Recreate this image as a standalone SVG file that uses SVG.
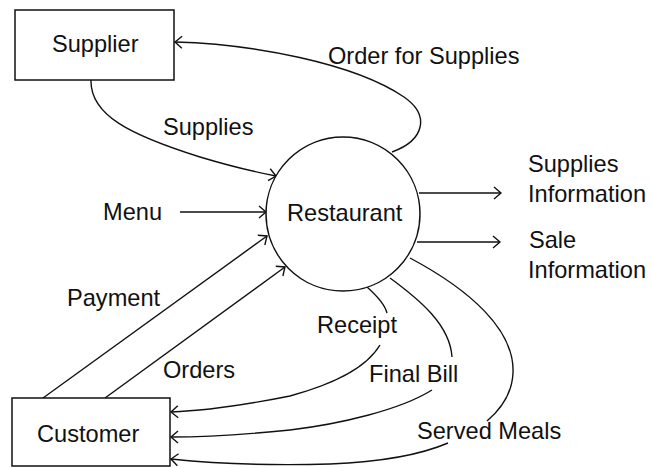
<svg xmlns="http://www.w3.org/2000/svg" width="652" height="468" viewBox="0 0 652 468">
<style>
  .box { fill: #fff; stroke: #111; stroke-width: 1.5; }
  .t { font-family: "Liberation Sans", Arial, sans-serif; font-size: 23.6px; fill: #111; }
  .ln { fill: none; stroke: #111; stroke-width: 1.4; }
</style>
<defs>
  <marker id="arr" markerUnits="userSpaceOnUse" markerWidth="10" markerHeight="14" refX="8" refY="7" orient="auto" overflow="visible">
    <path d="M1,1 L8,7 L1,13" fill="none" stroke="#111" stroke-width="1.4"/>
  </marker>
</defs>
<rect width="652" height="468" fill="#fff"/>

<g id="connectors">
  <!-- Order for Supplies -->
  <path class="ln" d="M392,152 C425,140 430,115 404,97 C354,63 252,44 175,42" marker-end="url(#arr)"/>
  <!-- Supplies -->
  <path class="ln" d="M91,80 C90,115 130,135 200,157 C230,166 255,172 276,176" marker-end="url(#arr)"/>
  <!-- Menu -->
  <path class="ln" d="M180,212 L266,212" marker-end="url(#arr)"/>
  <!-- Supplies Information -->
  <path class="ln" d="M419,193 L501,193" marker-end="url(#arr)"/>
  <!-- Sale Information -->
  <path class="ln" d="M417,242 L500,242" marker-end="url(#arr)"/>
  <!-- Payment -->
  <path class="ln" d="M43,398 L267,236" marker-end="url(#arr)"/>
  <!-- Orders -->
  <path class="ln" d="M105,398 L285,267" marker-end="url(#arr)"/>
  <!-- Receipt -->
  <path class="ln" d="M367,287 C376,295 385,305 387,313"/>
  <path class="ln" d="M380,345 C365,370 330,385 290,396 C240,406 200,411 171,412" marker-end="url(#arr)"/>
  <!-- Final Bill -->
  <path class="ln" d="M390,278 C420,300 450,325 452,357"/>
  <path class="ln" d="M432,390 C400,410 340,424 290,430 C240,435 200,437 171,437" marker-end="url(#arr)"/>
  <!-- Served Meals -->
  <path class="ln" d="M410,258 C470,290 515,330 513,373 C512,395 500,410 487,421"/>
  <path class="ln" d="M448,443 C420,455 380,462 330,464 C260,466 200,462 171,459" marker-end="url(#arr)"/>
</g>

<g id="supplier">
  <rect class="box" x="15" y="10" width="159" height="70"/>
  <text class="t" x="52" y="52">Supplier</text>
</g>
<g id="customer">
  <rect class="box" x="12" y="398" width="158" height="68"/>
  <text class="t" x="37" y="442">Customer</text>
</g>
<g id="restaurant">
  <circle class="box" cx="343" cy="214" r="77"/>
  <text class="t" x="287" y="221">Restaurant</text>
</g>

<g id="labels">
  <text class="t" x="328" y="64">Order for Supplies</text>
  <text class="t" x="163" y="135">Supplies</text>
  <text class="t" x="103" y="220">Menu</text>
  <text class="t" x="528" y="172">Supplies</text>
  <text class="t" x="528" y="202">Information</text>
  <text class="t" x="529" y="248">Sale</text>
  <text class="t" x="528" y="278">Information</text>
  <text class="t" x="67" y="306">Payment</text>
  <text class="t" x="163" y="378">Orders</text>
  <text class="t" x="317" y="333">Receipt</text>
  <text class="t" x="369" y="382">Final Bill</text>
  <text class="t" x="417" y="439">Served Meals</text>
</g>
</svg>
